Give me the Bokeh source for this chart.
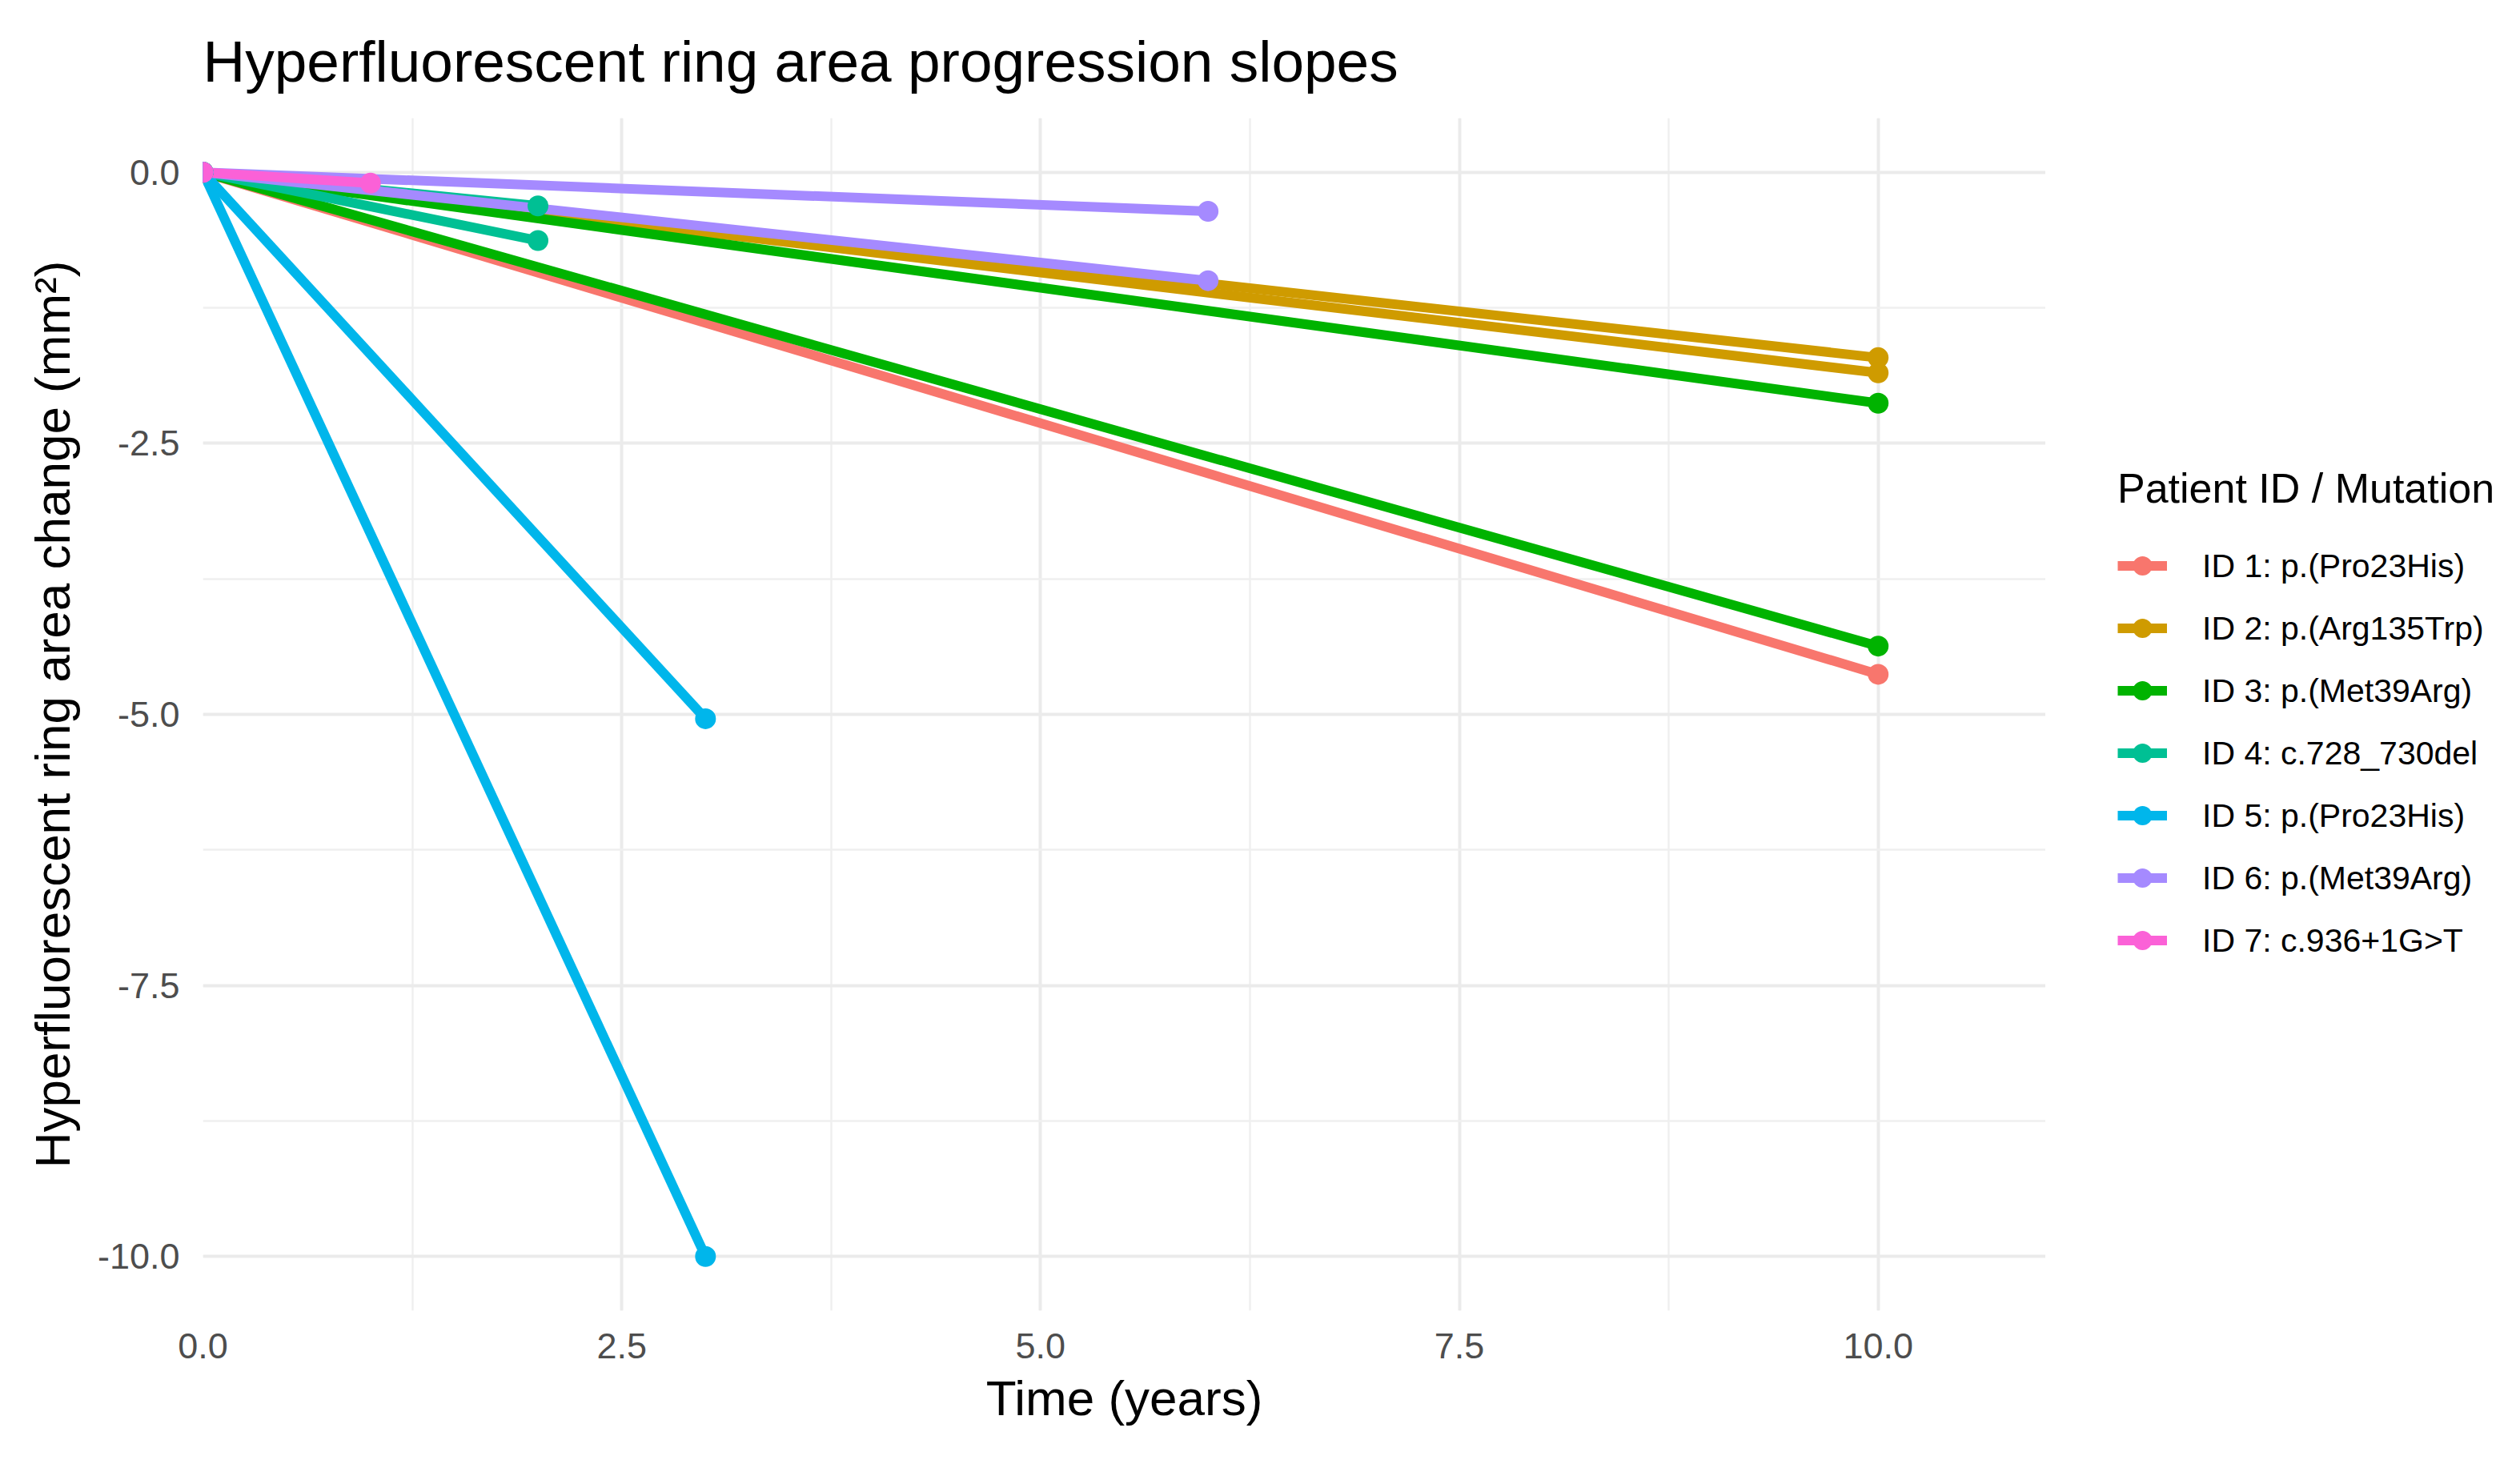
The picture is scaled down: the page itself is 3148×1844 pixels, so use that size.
from bokeh.plotting import figure
from bokeh.layouts import row
from bokeh.models import Range1d, SingleIntervalTicker, NumeralTickFormatter, Legend, LegendItem, ColumnDataSource
from bokeh.embed import file_html
from bokeh.resources import INLINE

# ---- data ----
patient_labels = [
    "ID 1: p.(Pro23His)",
    "ID 2: p.(Arg135Trp)",
    "ID 3: p.(Met39Arg)",
    "ID 4: c.728_730del",
    "ID 5: p.(Pro23His)",
    "ID 6: p.(Met39Arg)",
    "ID 7: c.936+1G>T",
]
patient_colors = ["#F8766D", "#CF9B00", "#00B300", "#00C094", "#00B6EB", "#A58AFF", "#FB61D7"]

# one entry per eye / series: patient index, end time (years), end change (mm²)
series_patient = [0, 1, 1, 2, 2, 3, 3, 4, 4, 5, 5, 6]
series_end_time = [10, 10, 10, 10, 10, 2, 2, 3, 3, 6, 6, 1]
series_end_change = [-4.63, -1.71, -1.85, -2.13, -4.37, -0.31, -0.63, -5.04, -10.0, -0.36, -1.00, -0.10]
start_time = 0.0
start_change = 0.0

x_ticks_interval = 2.5
y_ticks_interval = 2.5

FONT = "Liberation Sans"
LINE_W = 12
DOT = 26
H = 1828

p = figure(
    width=2555, height=H,
    x_range=Range1d(0, 11), y_range=Range1d(-10.5, 0.5),
    output_backend="svg", toolbar_location=None,
    min_border_left=253, min_border_right=0,
    min_border_top=147, min_border_bottom=H - 1663,
    background_fill_color="white", border_fill_color="white",
)
p.outline_line_color = None

# title
p.title.text = "Hyperfluorescent ring area progression slopes"
p.title.text_font = FONT
p.title.text_font_size = "73px"
p.title.text_font_style = "normal"
p.title.text_color = "black"
p.title.text_line_height = 1.0
p.title.align = "left"
p.title.standoff = 62

# axes
for ax in (p.xaxis[0], p.yaxis[0]):
    ax.axis_line_color = None
    ax.major_tick_line_color = None
    ax.minor_tick_line_color = None
    ax.major_tick_out = 0
    ax.major_tick_in = 0
    ax.minor_tick_out = 0
    ax.minor_tick_in = 0
    ax.major_label_text_font = FONT
    ax.major_label_text_font_size = "45px"
    ax.major_label_text_color = "#4D4D4D"
    ax.major_label_text_line_height = 1.0
    ax.axis_label_text_font = FONT
    ax.axis_label_text_font_size = "62px"
    ax.axis_label_text_font_style = "normal"
    ax.axis_label_text_color = "black"
    ax.axis_label_text_line_height = 1.0
    ax.formatter = NumeralTickFormatter(format="0.0")

p.xaxis.ticker = SingleIntervalTicker(interval=x_ticks_interval, num_minor_ticks=2)
p.yaxis.ticker = SingleIntervalTicker(interval=y_ticks_interval, num_minor_ticks=2)
p.xaxis.axis_label = "Time (years)"
p.yaxis.axis_label = "Hyperfluorescent ring area change (mm²)"
p.xaxis.major_label_standoff = 28
p.xaxis.axis_label_standoff = 12
p.yaxis.major_label_standoff = 29
p.yaxis.axis_label_standoff = 19

for g in (p.xgrid[0], p.ygrid[0]):
    g.grid_line_color = "#EBEBEB"
    g.grid_line_width = 4
    g.minor_grid_line_color = "#EFEFEF"
    g.minor_grid_line_width = 2.4

# lines first (all patients), then points
for i, label in enumerate(patient_labels):
    xs, ys = [], []
    for pi, t, c in zip(series_patient, series_end_time, series_end_change):
        if pi == i:
            xs.append([start_time, t])
            ys.append([start_change, c])
    src = ColumnDataSource(dict(xs=xs, ys=ys))
    p.multi_line("xs", "ys", source=src, line_color=patient_colors[i], line_width=LINE_W, line_cap="butt")

for i, label in enumerate(patient_labels):
    px, py = [], []
    for pi, t, c in zip(series_patient, series_end_time, series_end_change):
        if pi == i:
            px += [start_time, t]
            py += [start_change, c]
    src = ColumnDataSource(dict(x=px, y=py))
    p.scatter("x", "y", source=src, size=DOT, fill_color=patient_colors[i], line_color=None)

# ---- legend panel (separate figure to the right of the plot) ----
lp = figure(
    width=577, height=H,
    x_range=Range1d(0, 1), y_range=Range1d(0, 1),
    output_backend="svg", toolbar_location=None,
    x_axis_location=None, y_axis_location=None,
    min_border_left=0, min_border_right=0,
    min_border_top=137, min_border_bottom=H - 1637,
    background_fill_color="white", border_fill_color="white",
)
lp.outline_line_color = None
lp.xgrid.visible = False
lp.ygrid.visible = False

# legend-key renderers: their data lie outside this panel's ranges, only the keys show
items = []
for i, lab in enumerate(patient_labels):
    lr = lp.multi_line("xs", "ys", source=ColumnDataSource(dict(xs=[[-5, -4]], ys=[[-5, -5]])),
                       line_color=patient_colors[i], line_width=LINE_W, line_cap="butt")
    sr = lp.scatter("x", "y", source=ColumnDataSource(dict(x=[-5], y=[-5])),
                    size=DOT, fill_color=patient_colors[i], line_color=None)
    items.append(LegendItem(label=lab, renderers=[lr, sr]))

legend = Legend(items=items, location="center_left", title="Patient ID / Mutation")
legend.title_text_font = FONT
legend.title_text_font_size = "52px"
legend.title_text_font_style = "normal"
legend.title_text_color = "black"
legend.title_standoff = 37
legend.label_text_font = FONT
legend.label_text_font_size = "41px"
legend.label_text_color = "black"
legend.label_standoff = 44
legend.glyph_width = 62
legend.glyph_height = 60
legend.label_height = 60
legend.spacing = 18
legend.padding = 4
legend.margin = 90
legend.border_line_color = None
legend.background_fill_alpha = 0
lp.add_layout(legend, "center")

layout = row(p, lp, spacing=0)
open("out.html", "w").write(file_html(layout, INLINE))
